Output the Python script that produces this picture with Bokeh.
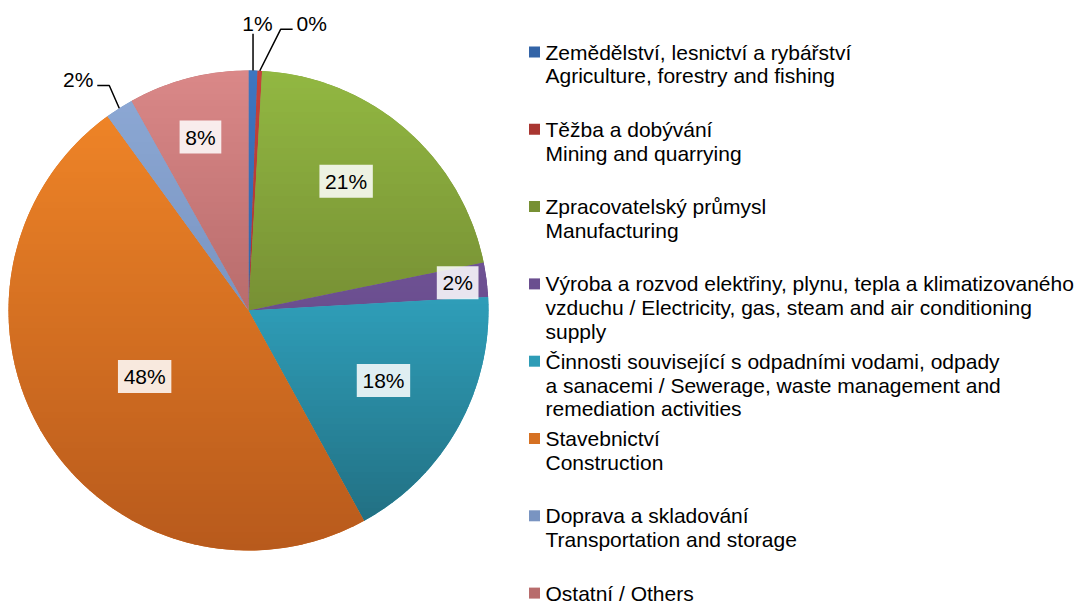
import math
from bokeh.plotting import figure
from bokeh.models import Range1d
from bokeh.core.properties import value
from bokeh.embed import file_html
from bokeh.resources import INLINE

# ---------------- data ----------------
legend_lines = [
    ["Zemědělství, lesnictví a rybářství", "Agriculture, forestry and fishing"],
    ["Těžba a dobývání", "Mining and quarrying"],
    ["Zpracovatelský průmysl", "Manufacturing"],
    ["Výroba a rozvod elektřiny, plynu, tepla a klimatizovaného",
     "vzduchu / Electricity, gas, steam and air conditioning", "supply"],
    ["Činnosti související s odpadními vodami, odpady",
     "a sanacemi / Sewerage, waste management and", "remediation activities"],
    ["Stavebnictví", "Construction"],
    ["Doprava a skladování", "Transportation and storage"],
    ["Ostatní / Others"],
]
shares = [0.6, 0.3, 20.9, 2.3, 17.9, 48.0, 1.9, 8.1]

# ---------------- style ----------------
colors_top = [(62, 118, 192), (198, 66, 60), (146, 184, 66), (130, 100, 168),
              (60, 205, 240), (244, 136, 40), (142, 170, 214), (218, 136, 136)]
colors_bottom = [(40, 82, 142), (140, 42, 38), (92, 104, 38), (82, 56, 118),
                 (32, 106, 124), (184, 90, 28), (100, 126, 172), (150, 80, 80)]
# label placement: (angle nudge in degrees, radius in px, outside?)
label_layout = [(0.7, 287, True), (9.7, 294, True), (-3.8, 162, False), (-0.2, 211, False),
                (-1.6, 152, False), (0.0, 123, False), (-3.8, 287, True), (-0.9, 180, False)]

W, H = 1087, 607
FONT = value("Liberation Sans")


def dx(rx):
    return rx


def dy(ry):
    return H - ry


CX, CY, R = dx(248), dy(310), 240

p = figure(width=W, height=H, x_range=Range1d(0, W), y_range=Range1d(0, H),
           output_backend="svg", toolbar_location=None, min_border=0,
           x_axis_location=None, y_axis_location=None)
p.grid.visible = False
p.outline_line_color = None
p.background_fill_color = "white"


def hexc(c):
    return "#%02x%02x%02x" % tuple(int(round(v)) for v in c)


def lerp(a, b, t):
    return tuple(a[i] + (b[i] - a[i]) * t for i in range(3))


def theta(frac):
    return math.pi / 2 - 2 * math.pi * frac


total = sum(shares)
cum = [0.0]
for s in shares:
    cum.append(cum[-1] + s / total)

starts = [theta(cum[i + 1]) for i in range(len(shares))]
ends = [theta(cum[i]) for i in range(len(shares))]
mid_cols = [hexc(lerp(colors_top[i], colors_bottom[i], 0.5)) for i in range(len(shares))]

# base wedges
p.wedge(x=[CX] * len(shares), y=[CY] * len(shares), radius=R,
        start_angle=starts, end_angle=ends, fill_color=mid_cols, line_color=None)


# gradient bands per slice
def clip(poly, y, keep_above):
    out = []
    n = len(poly)
    for i in range(n):
        P = poly[i]
        Q = poly[(i + 1) % n]
        pin = P[1] >= y if keep_above else P[1] <= y
        qin = Q[1] >= y if keep_above else Q[1] <= y
        if pin:
            out.append(P)
        if pin != qin:
            t = (y - P[1]) / (Q[1] - P[1])
            out.append((P[0] + t * (Q[0] - P[0]), y))
    return out


xs, ys, fc = [], [], []
NB = 80
hb = 2 * R / NB
for i in range(len(shares)):
    a0, a1 = ends[i], starts[i]
    npts = max(3, int(abs(a0 - a1) * 180 / math.pi) + 2)
    poly = [(CX, CY)]
    for k in range(npts):
        a = a0 + (a1 - a0) * k / (npts - 1)
        poly.append((CX + R * math.cos(a), CY + R * math.sin(a)))
    for b in range(NB):
        yhi = CY + R - b * hb + 0.4
        ylo = CY + R - (b + 1) * hb
        q = clip(clip(poly, ylo, True), yhi, False)
        if len(q) < 3:
            continue
        t = (b + 0.5) / NB
        xs.append([pt[0] for pt in q])
        ys.append([pt[1] for pt in q])
        fc.append(hexc(lerp(colors_top[i], colors_bottom[i], t)))
p.patches(xs=xs, ys=ys, fill_color=fc, line_color=None)

# data labels
lab_x, lab_y, lab_t = [], [], []
box_x, box_y, box_w = [], [], []
for i, s in enumerate(shares):
    txt = "%d%%" % int(round(s))
    mid = (cum[i] + cum[i + 1]) / 2
    nudge, rad, outside = label_layout[i]
    a = theta(mid) - math.radians(nudge)
    lx = CX + rad * math.cos(a)
    ly = CY + rad * math.sin(a)
    lab_x.append(lx)
    lab_y.append(ly)
    lab_t.append(txt)
    if not outside:
        box_x.append(lx)
        box_y.append(ly)
        box_w.append(12 + 11.7 * (len(txt) - 1) + 18)
    else:
        am = theta(mid)
        px0, py0 = CX + R * math.cos(am), CY + R * math.sin(am)
        hw = 15
        if abs(lx - px0) < 10:
            p.line(x=[px0, px0], y=[py0, ly - 10], line_color="black", line_width=1.5)
        else:
            side = 1 if lx > px0 else -1
            ex = lx - side * (hw + 4)
            ey = ly - 6
            elx = ex - side * 12
            p.line(x=[px0, elx, ex], y=[py0, ey, ey], line_color="black", line_width=1.5)

p.rect(x=box_x, y=box_y, width=box_w, height=33, width_units="screen", height_units="screen",
       fill_color="white", fill_alpha=0.85, line_color=None)
p.text(x=lab_x, y=lab_y, text=lab_t, text_font=FONT, text_font_size="21px",
       text_align="center", text_baseline="middle", text_color="black")

# legend
LEG_X = dx(534)
TXT_X = dx(545)
tx, ty, tt = [], [], []
mx, my = [], []
for i, lines in enumerate(legend_lines):
    y0 = 51.5 + 77.3 * i
    mx.append(LEG_X)
    my.append(dy(y0))
    for j, ln in enumerate(lines):
        tx.append(TXT_X)
        ty.append(dy(y0 + 23.8 * j))
        tt.append(ln)
p.rect(x=mx, y=my, width=11, height=11, width_units="screen", height_units="screen",
       fill_color=mid_cols, line_color=None)
p.text(x=tx, y=ty, text=tt, text_font=FONT, text_font_size="21px",
       text_align="left", text_baseline="middle", text_color="black")

open("out.html", "w").write(file_html(p, INLINE))
